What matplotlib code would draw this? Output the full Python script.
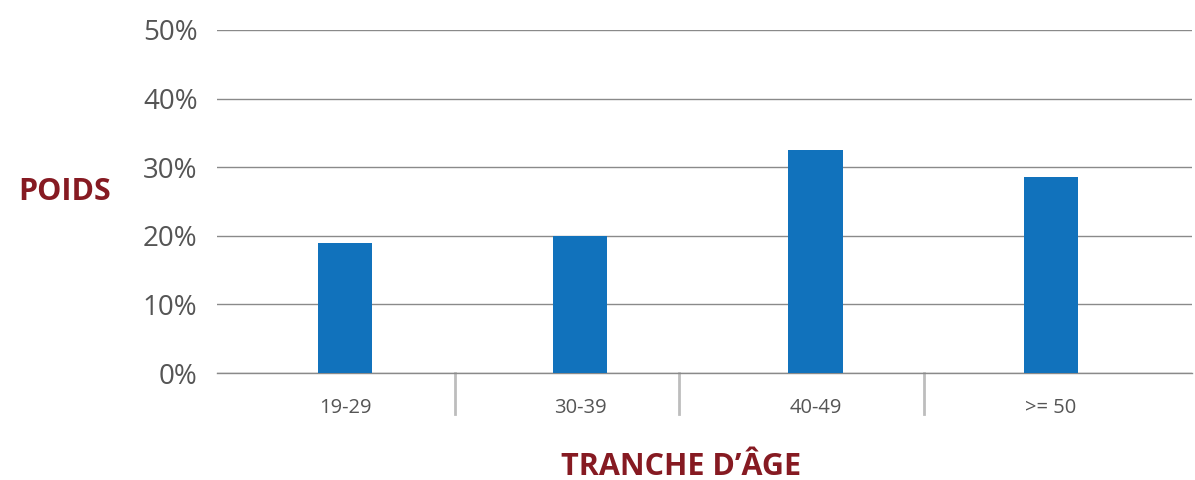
import matplotlib.pyplot as plt
from matplotlib.ticker import FuncFormatter

# Data
categories = ['19-29', '30-39', '40-49', '>= 50']
poids = [19.0, 20.0, 32.5, 28.6]
yticks = [0, 10, 20, 30, 40, 50]

bar_color = '#1172BC'
title_color = '#861A22'
text_color = '#555555'
grid_color = '#8a8a8a'

plt.rcParams['font.family'] = ['Open Sans', 'DejaVu Sans']

fig = plt.figure(figsize=(11.95, 4.8), dpi=100)
ax = fig.add_axes([217 / 1195, 107 / 480, (1192 - 217) / 1195, 343 / 480])

x = list(range(len(categories)))
ax.bar(x, poids, width=0.23, color=bar_color, zorder=3)

ax.set_ylim(0, 50)
ax.set_xlim(-0.544, 3.6)
ax.set_yticks(yticks)
ax.yaxis.set_major_formatter(FuncFormatter(lambda v, p: f'{int(v)}%'))
ax.grid(axis='y', color=grid_color, linewidth=1, zorder=0)
ax.set_axisbelow(True)

for s in ['top', 'right', 'left']:
    ax.spines[s].set_visible(False)
ax.spines['bottom'].set_color(grid_color)
ax.spines['bottom'].set_linewidth(1)

ax.tick_params(axis='y', length=0, pad=14, labelsize=20, labelcolor=text_color)
ax.set_xticks(x)
ax.set_xticklabels(categories)
ax.tick_params(axis='x', length=0, pad=18, labelsize=14.5, labelcolor=text_color)

# category separators below the axis
for sep in [0.467, 1.42, 2.46]:
    ax.plot([sep, sep], [0, -6], color='#bdbdbd', linewidth=2, clip_on=False)

fig.text(65 / 1195, 1 - 192 / 480, 'POIDS', color=title_color, fontsize=22,
         fontweight='bold', ha='center', va='center')
fig.text(681 / 1195, 1 - 467 / 480, 'TRANCHE D\u2019\u00c2GE', color=title_color,
         fontsize=22, fontweight='bold', ha='center', va='center')

fig.savefig('out.png', dpi=100)
